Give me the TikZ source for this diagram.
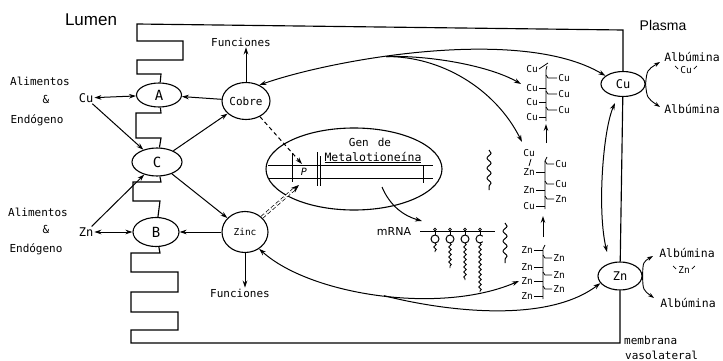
\documentclass[tikz,border=0pt]{standalone}
\usepackage{fontspec}
\newfontfamily\dmono{DejaVu Sans Mono}
\newfontfamily\dsans{DejaVu Sans}
\newfontfamily\lsans{Liberation Sans}
\usetikzlibrary{shapes.geometric,arrows.meta,decorations.pathmorphing}
\tikzset{
  >={Stealth[length=7pt,width=4.6pt]},
  mfont/.style={font=\dmono\fontsize{#1}{#1}\selectfont},
  mono/.style={font=\dmono\fontsize{#1}{#1}\selectfont, inner sep=1pt},
  mem/.style={line width=1.15pt, line join=miter},
  ell/.style={ellipse, draw, line width=1.1pt, inner sep=0pt},
  con/.style={line width=1pt, ->},
  bicon/.style={line width=1pt, <->},
  albarr/.style={line width=0.9pt, -{Stealth[length=6pt,width=4pt]}},
  chn/.style={line width=0.8pt},
  wav/.style={line width=0.9pt, decorate, decoration={snake, amplitude=1.2pt, segment length=5pt}},
  squig/.style={line width=1pt, decorate, decoration={snake, amplitude=2pt, segment length=10pt}},
  gl/.style={line width=1pt},
}
\begin{document}
\begin{tikzpicture}[x=1pt,y=-1pt]
\useasboundingbox (0,0) rectangle (723,361);

% ---- ellipses
\node[ell, minimum width=45pt, minimum height=24pt, mfont=14] (A) at (159,95) {A};
\node[ell, minimum width=50pt, minimum height=28pt, mfont=14] (C) at (157,162) {C};
\node[ell, minimum width=46pt, minimum height=29pt, mfont=14] (B) at (156,232) {B};
\node[ell, minimum width=48pt, minimum height=37pt, mfont=11] (Cobre) at (246,101) {Cobre};
\node[ell, minimum width=46pt, minimum height=41pt, mfont=9.5] (Zinc) at (245,232) {Zinc};
\node[ell, minimum width=44pt, minimum height=25pt, mfont=12] (CuP) at (623,84) {Cu};
\node[ell, minimum width=44pt, minimum height=28pt, mfont=12] (ZnP) at (620,276) {Zn};
\node[ell, minimum width=176pt, minimum height=82pt] (gene) at (354,169) {};

% ---- membrane
\draw[mem] (CuP) -- (623,30) -- (137,24) -- (137,41) -- (183,41) -- (183,60) -- (137,60) -- (137,74) -- (161,74) -- (A);
\draw[mem] (A) -- (161,113) -- (136,113) -- (136,138) -- (161,138) -- (C);
\draw[mem] (C) -- (161,182) -- (133,182) -- (133,201) -- (160,201) -- (B);
\draw[mem] (B) -- (160,253) -- (131,253) -- (131,272) -- (178,272) -- (178,292) -- (131,292) -- (131,312) -- (178,312) -- (178,330) -- (131,330) -- (131,343) -- (620,343) -- (ZnP);
\draw[mem] (CuP) -- (ZnP);

% ---- texts
\node[font=\lsans\fontsize{17}{17}\selectfont, inner sep=0pt] (lumen) at (91,20) {Lumen};
\node[font=\lsans\fontsize{14}{14}\selectfont, inner sep=0pt] (plasma) at (663,25) {Plasma};
\node[mono=11] (ali1) at (40,81) {Alimentos};
\node[mono=11] (amp1) at (46,99) {\&};
\node[mono=11] (end1) at (37,120) {Endógeno};
\node[mono=11] (ali2) at (38,212) {Alimentos};
\node[mono=11] (amp2) at (46,229) {\&};
\node[mono=11] (end2) at (36,249) {Endógeno};
\node[mono=12] (cuL) at (86,98) {Cu};
\node[mono=12] (znL) at (86,232) {Zn};
\node[mono=11] (funT) at (241,42) {Funciones};
\node[mono=11] (funB) at (240,293) {Funciones};
\node[mono=11, anchor=base] (gen1) at (370,146) {Gen\hspace{9pt}de};
\node[mono=11.5, anchor=base] (gen2) at (373,161) {\underline{Metalotioneína}};
\node[inner sep=0.5pt, font=\dmono\itshape\fontsize{10}{10}\selectfont] (P) at (304,172) {P};
\node[font=\dsans\fontsize{11}{11}\selectfont, inner sep=1pt] (mrna) at (394,231) {mRNA};
\node[mono=11.5] (alb1) at (692,57) {Albúmina};
\node[mono=9.5] (cuAlb) at (686,70) {Cu};
\node[mono=11.5] (alb2) at (692,109) {Albúmina};
\node[mono=11.5] (alb3) at (687,253) {Albúmina};
\node[mono=9.5] (znAlb) at (684,270) {Zn};
\node[mono=11.5] (alb4) at (688,303) {Albúmina};
\node[mono=11, anchor=base west] (memb1) at (623,344) {membrana};
\node[mono=11, anchor=base west] (memb2) at (624,359) {vasolateral};
\draw[chn] ([shift={(-4,-4)}]cuAlb.west) -- ++(3,3);
\draw[chn] ([shift={(1,-1)}]cuAlb.east) -- ++(3,-3);
\draw[chn] ([shift={(-4,-4)}]znAlb.west) -- ++(3,3);
\draw[chn] ([shift={(1,-1)}]znAlb.east) -- ++(3,-3);

% ---- left connectors
\draw[bicon] (cuL) -- (A);
\draw[bicon] (znL) -- (B);
\draw[con] (cuL) -- (C);
\draw[con] (znL) -- (C);
\draw[con] (C) -- (Cobre);
\draw[con] (C) -- (Zinc);
\draw[con] (Cobre) -- (A);
\draw[con] (Zinc) -- (B);
\draw[con] (Cobre.north) -- (Cobre.north |- funT.south);
\draw[con] (Zinc.south) -- (Zinc.south |- funB.north);

% ---- to promoter
\coordinate (pc) at (302,164);
\coordinate (pz) at (299,185);
\draw[con, dash pattern=on 4pt off 3pt] (Cobre) -- (pc);
\draw[line width=0.7pt, double, double distance=1.8pt, dash pattern=on 4pt off 2.5pt, -{Stealth[length=8pt,width=6pt]}] (Zinc) -- (pz);

% ---- gene
\draw[gl] (268,165) -- (433,165);
\draw[gl] (268,178) -- (433,178);
\draw[gl] (292,153) -- (292,182);
\draw[gl] (317,152) -- (317,186);
\draw[gl] (320,156) -- (320,186);
\draw[gl] (423,165) -- (423,183);

% ---- mRNA
\coordinate (gs) at (382,187);
\coordinate (ms) at (422,221);
\draw[con] (gs) .. controls (390,206) and (404,216) .. (ms);
\coordinate (ml1) at (420,231);
\coordinate (ml2) at (495,231);
\draw[gl] (ml1) -- (ml2);
\foreach \x/\l in {435/252, 450/268, 465/280, 480/292} {
  \draw[line width=0.7pt] (\x,229.5) circle (1.4pt);
  \draw[gl] (\x,231) -- (\x,235);
  \draw[wav] (\x,243) -- (\x,\l);
}
\foreach \x in {435,450,465} { \draw[gl] (\x,239) circle (4pt); }
\draw[gl] (482.8,241.8) arc[start angle=45, end angle=315, radius=4];
\draw[squig] (489,150) -- (489,190);
\draw[squig] (505,223) -- (505,263);

% ---- Cu cluster (top)
\foreach \y [count=\i] in {69,88,102,117} { \node[mono=9.5] (ucl\i) at (532,\y) {Cu}; }
\foreach \y [count=\i] in {78,94,110} { \node[mono=9.5] (ucr\i) at (564,\y) {Cu}; }
\draw[chn] (539,69) -- (548,63);
\draw[chn] (547,66) -- (546,70) -- (546,118) -- (546,121);
\foreach \y in {88,102,117} { \draw[chn] (539,\y) -- (546,\y); }
\foreach \y in {78,94,110} { \draw[chn] (546,\y-3) -- (548,\y) -- (557,\y); }

% ---- mixed cluster
\foreach \y/\t [count=\i] in {153/Cu,172/Zn,190/Zn,206/Cu} { \node[mono=9.5] (mcl\i) at (529,\y) {\t}; }
\foreach \y/\t [count=\i] in {164/Cu,184/Cu,199/Zn} { \node[mono=9.5] (mcr\i) at (561,\y) {\t}; }
\draw[chn] (531,159) -- (529,166);
\draw[chn] (547,157) -- (545,161) -- (545,209);
\foreach \y in {172,190,206} { \draw[chn] (536,\y) -- (545,\y); }
\foreach \y in {164,184,199} { \draw[chn] (545,\y-3) -- (547,\y) -- (554,\y); }

% ---- Zn cluster
\foreach \y [count=\i] in {250,267,281,296} { \node[mono=9.5] (zcl\i) at (527,\y) {Zn}; }
\foreach \y [count=\i] in {258,275,289} { \node[mono=9.5] (zcr\i) at (559,\y) {Zn}; }
\draw[chn] (545,245) -- (543,249) -- (543,299);
\foreach \y in {250,267,281,296} { \draw[chn] (534,\y) -- (543,\y); }
\foreach \y in {258,275,289} { \draw[chn] (543,\y-3) -- (545,\y) -- (552,\y); }

% cluster arrows
\coordinate (up1s) at (546,143); \coordinate (up1e) at (546,124);
\draw[con] (up1s) -- (up1e);
\coordinate (up2s) at (543,237); \coordinate (up2e) at (543,216);
\draw[con] (up2s) -- (up2e);

% ---- long curves
\coordinate (S1) at (386,56.6);
\coordinate (uct) at (521,84);
\coordinate (mct) at (522,142);
\draw[bicon] (Cobre.50) .. controls (330,60) and (520,25) .. (CuP.155);
\draw[con] (S1) .. controls (430,55) and (490,66) .. (uct);
\draw[con] (S1) .. controls (440,56) and (495,88) .. (mct);
\coordinate (ct) at (615,103);
\coordinate (zt) at (607,252);
\draw[bicon] (ct) .. controls (603,130) and (597,210) .. (zt);
\coordinate (zct) at (519,281);
\draw[bicon] (Zinc.-50) .. controls (310,295) and (440,315) .. (zct);
\coordinate (S2) at (384,295.7);
\draw[con] (S2) .. controls (440,310) and (545,325) .. (ZnP.-160);

% ---- albumin arrows
\draw[albarr] (CuP.east) .. controls (647,70) .. (660,62);
\draw[albarr] (CuP.east) .. controls (647,98) .. (660,107);
\draw[albarr] (ZnP.east) .. controls (643,262) .. (653,256);
\draw[albarr] (ZnP.east) .. controls (643,290) .. (654,298);
\end{tikzpicture}
\end{document}
